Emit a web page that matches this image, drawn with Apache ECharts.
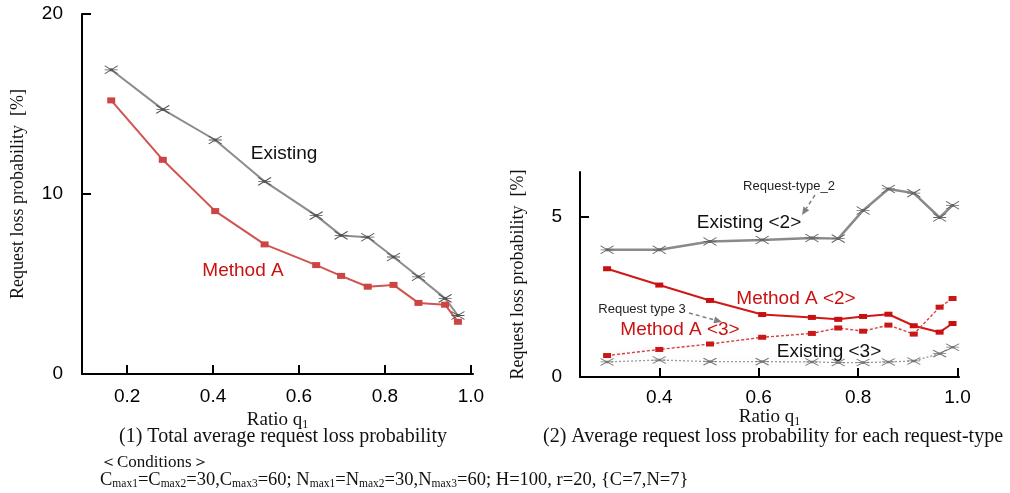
<!DOCTYPE html>
<html>
<head>
<meta charset="utf-8">
<title>Request loss probability</title>
<script src="https://cdn.jsdelivr.net/npm/echarts@6/dist/echarts.min.js"></script>
<style>
  html, body { margin: 0; padding: 0; background: #fff; }
  #main { width: 1010px; height: 493px; }
</style>
</head>
<body>
<div id="main"></div>
<script>
// ---- data ----
// (1) total average request loss probability
var leftX        = [0.163, 0.283, 0.405, 0.520, 0.640, 0.698, 0.760, 0.820, 0.878, 0.940, 0.970];
var leftExisting = [16.9, 14.7, 13.0, 10.7, 8.8, 7.7, 7.6, 6.5, 5.4, 4.2, 3.25];
var leftMethodA  = [15.2, 11.9, 9.05, 7.2, 6.05, 5.45, 4.85, 4.95, 3.95, 3.85, 2.9];

// (2) per request-type
var rightX         = [0.295, 0.400, 0.502, 0.607, 0.707, 0.760, 0.810, 0.861, 0.912, 0.964, 0.990];
var rightExisting2 = [3.97, 3.97, 4.23, 4.28, 4.34, 4.32, 5.20, 5.87, 5.74, 4.98, 5.36];
var rightMethodA2  = [3.38, 2.87, 2.39, 1.95, 1.86, 1.80, 1.89, 1.96, 1.60, 1.40, 1.67];
var rightMethodA3  = [0.67, 0.86, 1.03, 1.24, 1.36, 1.53, 1.43, 1.62, 1.34, 2.18, 2.45];
var rightExisting3 = [0.47, 0.53, 0.48, 0.48, 0.47, 0.45, 0.45, 0.47, 0.50, 0.73, 0.93];

var xTicks      = [0.2, 0.4, 0.6, 0.8, 1.0];
var xTicksRight = [0.4, 0.6, 0.8, 1.0];
var yTicksLeft  = [0, 10, 20];
var yTicksRight = [0, 5];

function pairs(xs, ys) {
    var out = [];
    for (var i = 0; i < xs.length; i++) {
        out.push([xs[i], ys[i]]);
    }
    return out;
}

var SANS = "'Liberation Sans', Arial, sans-serif";
var SERIF = "'Liberation Serif', 'Times New Roman', serif";
var ASTER = 'path://M0,0L12,8M0,8L12,0M0,4L12,4M5,3L7,3L7,5L5,5Z';

function arrow(x1, y1, x2, y2) {
    var a = Math.atan2(y2 - y1, x2 - x1);
    var L = 8, W = 3.5;
    var bx = x2 - L * Math.cos(a), by = y2 - L * Math.sin(a);
    return [
        {
            type: 'line',
            shape: { x1: x1, y1: y1, x2: bx, y2: by },
            style: { stroke: '#808080', lineWidth: 1.5, lineDash: [4, 3] }
        },
        {
            type: 'polygon',
            shape: { points: [[x2, y2],
                [bx + W * Math.sin(a), by - W * Math.cos(a)],
                [bx - W * Math.sin(a), by + W * Math.cos(a)]] },
            style: { fill: '#808080' }
        }
    ];
}

function label(text, cx, cy, size, color) {
    return {
        type: 'text',
        x: cx, y: cy,
        style: {
            text: text, fill: color, font: size + 'px ' + SANS,
            align: 'center', verticalAlign: 'middle'
        }
    };
}

var ratioName = '{a|Ratio q}{s|1}';
var ratioRich = {
    a: { fontFamily: SERIF, fontSize: 19, color: '#111' },
    s: { fontFamily: SERIF, fontSize: 12, color: '#111', padding: [9, 0, 0, 0] }
};

var axisCommon = {
    axisLine: { lineStyle: { color: '#000', width: 2 } },
    axisTick: { inside: true, length: 9, lineStyle: { color: '#000', width: 2 } },
    axisLabel: { color: '#000', fontFamily: SANS, fontSize: 19 },
    splitLine: { show: false }
};

var chart = echarts.init(document.getElementById('main'));
var option = {
    animation: false,
    backgroundColor: '#fff',
    grid: [
        { left: 82, top: 14, width: 391, height: 360 },
        { left: 580, top: 172, width: 379, height: 205 }
    ],
    xAxis: [
        Object.assign({}, axisCommon, {
            gridIndex: 0, type: 'value', min: 0.095, max: 1.005,
            axisTick: Object.assign({}, axisCommon.axisTick, { customValues: xTicks }),
            axisLabel: Object.assign({}, axisCommon.axisLabel, {
                customValues: xTicks, margin: 13,
                formatter: function (v) { return v.toFixed(1); }
            }),
            name: ratioName, nameLocation: 'middle', nameGap: 26,
            nameTextStyle: { rich: ratioRich }
        }),
        Object.assign({}, axisCommon, {
            gridIndex: 1, type: 'value', min: 0.2405, max: 1.003,
            axisTick: Object.assign({}, axisCommon.axisTick, { customValues: xTicksRight }),
            axisLabel: Object.assign({}, axisCommon.axisLabel, {
                customValues: xTicksRight, margin: 11,
                formatter: function (v) { return v.toFixed(1); }
            }),
            name: ratioName, nameLocation: 'middle', nameGap: 27,
            nameTextStyle: { rich: ratioRich }
        })
    ],
    yAxis: [
        Object.assign({}, axisCommon, {
            gridIndex: 0, type: 'value', min: 0, max: 20, interval: 10,
            axisTick: Object.assign({}, axisCommon.axisTick, { customValues: [10, 20] }),
            axisLabel: Object.assign({}, axisCommon.axisLabel, { customValues: yTicksLeft, margin: 19 }),
            name: 'Request loss probability  [%]', nameLocation: 'middle', nameGap: 55,
            nameTextStyle: { fontFamily: SERIF, fontSize: 18, color: '#111' }
        }),
        Object.assign({}, axisCommon, {
            gridIndex: 1, type: 'value', min: 0, max: 6.4,
            axisTick: Object.assign({}, axisCommon.axisTick, { customValues: [5] }),
            axisLabel: Object.assign({}, axisCommon.axisLabel, { customValues: yTicksRight, margin: 18 }),
            name: 'Request loss probability  [%]', nameLocation: 'middle', nameGap: 53,
            nameTextStyle: { fontFamily: SERIF, fontSize: 18, color: '#111' }
        })
    ],
    series: [
        {
            name: 'Existing', type: 'line', xAxisIndex: 0, yAxisIndex: 0,
            data: pairs(leftX, leftExisting),
            symbol: ASTER, symbolSize: [13, 8],
            lineStyle: { color: '#8c8c8c', width: 2 },
            itemStyle: { color: '#222', borderColor: '#555', borderWidth: 1 }
        },
        {
            name: 'Method A', type: 'line', xAxisIndex: 0, yAxisIndex: 0,
            data: pairs(leftX, leftMethodA),
            symbol: 'rect', symbolSize: [8, 6],
            lineStyle: { color: '#d05450', width: 2 },
            itemStyle: { color: '#cc4444' }
        },
        {
            name: 'Existing <2>', type: 'line', xAxisIndex: 1, yAxisIndex: 1,
            data: pairs(rightX, rightExisting2),
            symbol: ASTER, symbolSize: [13, 8],
            lineStyle: { color: '#8a8a8a', width: 2.5 },
            itemStyle: { color: '#222', borderColor: '#666', borderWidth: 1 }
        },
        {
            name: 'Method A <2>', type: 'line', xAxisIndex: 1, yAxisIndex: 1,
            data: pairs(rightX, rightMethodA2),
            symbol: 'rect', symbolSize: [8, 5],
            lineStyle: { color: '#d01818', width: 2 },
            itemStyle: { color: '#c81010' }
        },
        {
            name: 'Method A <3>', type: 'line', xAxisIndex: 1, yAxisIndex: 1,
            data: pairs(rightX, rightMethodA3),
            symbol: 'rect', symbolSize: [8, 5],
            lineStyle: { color: '#d84040', width: 1.4, type: [3, 2],
                shadowColor: 'rgba(0,0,0,0.12)', shadowBlur: 6 },
            itemStyle: { color: '#c81818' }
        },
        {
            name: 'Existing <3>', type: 'line', xAxisIndex: 1, yAxisIndex: 1,
            data: pairs(rightX, rightExisting3),
            symbol: ASTER, symbolSize: [13, 7],
            lineStyle: { color: '#9a9a9a', width: 1.3, type: [2, 2],
                shadowColor: 'rgba(0,0,0,0.15)', shadowBlur: 8 },
            itemStyle: { color: '#333', borderColor: '#777', borderWidth: 1 }
        }
    ],
    graphic: [
        label('Existing', 284, 154, 19, '#111'),
        label('Method A', 243, 271, 19, '#cc1111'),
        label('Request-type_2', 789, 186, 13, '#222'),
        label('Existing <2>', 749, 223, 19, '#111'),
        label('Method A <2>', 796, 299, 19, '#cc1111'),
        label('Request type 3', 642, 309, 13, '#222'),
        label('Method A <3>', 680, 330, 19, '#cc1111'),
        label('Existing <3>', 829, 352, 19, '#111'),
        {
            type: 'text', x: 283, y: 437,
            style: { text: '(1) Total average request loss probability', fill: '#111',
                font: '20px ' + SERIF, align: 'center', verticalAlign: 'middle' }
        },
        {
            type: 'text', x: 773, y: 437,
            style: { text: '(2) Average request loss probability for each request-type', fill: '#111',
                font: '20px ' + SERIF, align: 'center', verticalAlign: 'middle' }
        },
        {
            type: 'text', x: 100, y: 463,
            style: { text: '\uFF1CConditions\uFF1E', fill: '#111',
                font: '17px ' + SERIF, align: 'left', verticalAlign: 'middle' }
        },
        {
            type: 'text', x: 100, y: 480,
            style: {
                text: 'C{s|max1}=C{s|max2}=30,C{s|max3}=60; N{s|max1}=N{s|max2}=30,N{s|max3}=60; H=100, r=20, {C=7,N=7}',
                font: '18.5px ' + SERIF, fill: '#111',
                align: 'left', verticalAlign: 'middle',
                rich: {
                    s: { fontFamily: SERIF, fontSize: 11.5, fill: '#111', padding: [8, 0, 0, 0] }
                }
            }
        }
    ].concat(arrow(815, 195, 802, 215), arrow(689, 313, 722, 322))
};
chart.setOption(option);
</script>
</body>
</html>
